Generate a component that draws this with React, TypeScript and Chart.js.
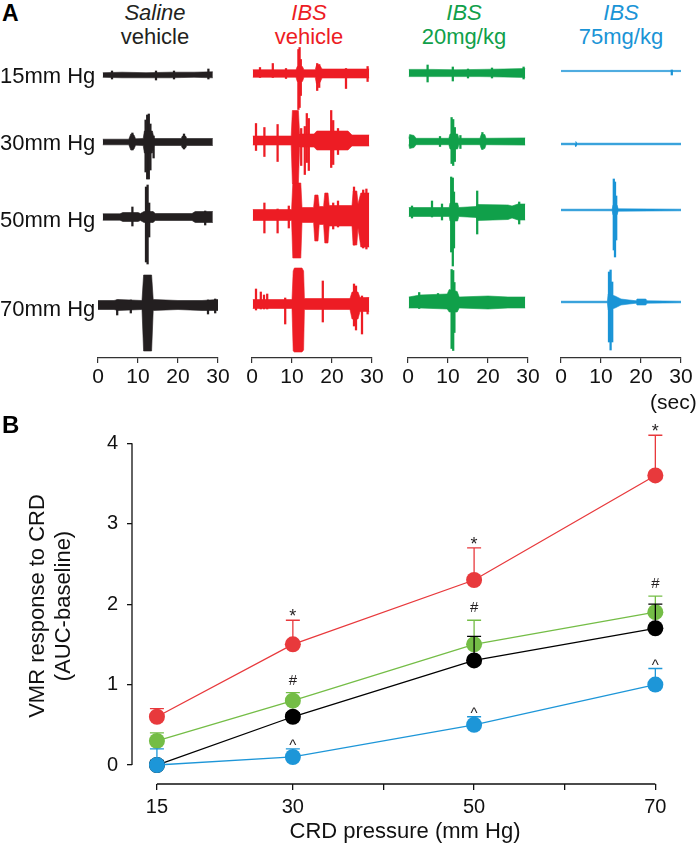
import React, { useEffect, useRef } from "react";
import { Chart, registerables } from "chart.js";
Chart.register(...registerables);

const FONT = "'Liberation Sans', Arial, Helvetica, sans-serif";

// ================= Panel A : EMG traces =================
const PRESSURE_ROWS = ["15mm Hg", "30mm Hg", "50mm Hg", "70mm Hg"];
const GROUP_LINE1 = ["Saline", "IBS", "IBS", "IBS"];
const GROUP_LINE2 = ["vehicle", "vehicle", "20mg/kg", "75mg/kg"];
const TIME_TICKS = [0, 10, 20, 30];
const TIME_UNIT = "(sec)";

// envelope samples: [time (s), upward amplitude, downward amplitude]
const SALINE_BAND = [
  [[1.2, 2.3, 2.3], [6, 2.8, 2.8], [12, 2.3, 2.8], [18, 2.8, 2.8], [24, 2.8, 2.3], [28.7, 3.2, 2.8]],
  [[1.2, 2.8, 2.8], [7.7, 2.8, 2.8], [8.2, 8, 8], [9, 7, 7], [9.4, 3.2, 3.2], [11.3, 3.5, 3.5], [11.6, 11, 11], [13.6, 11, 11], [14, 3.5, 3.5], [20.8, 3.5, 3.5], [21.1, 6, 6], [21.9, 6, 6], [22.2, 3.5, 3.5], [28.7, 3.5, 3.5]],
  [[1.2, 3.2, 3.2], [5.5, 3.2, 3.2], [6.2, 4.5, 4.5], [10, 4.5, 4.5], [10.6, 3.5, 3.5], [11.5, 5.5, 5.5], [13.8, 5.5, 5.5], [14.3, 3.5, 3.5], [23.5, 3.5, 3.5], [24.3, 5.5, 5.5], [28.7, 5.5, 5.5]],
  [[0, 4.5, 4.5], [4, 4.5, 4.5], [5, 5.5, 5.5], [11, 4.5, 4.5], [11.4, 30, 46], [13.4, 30, 46], [13.8, 5.5, 5.5], [20, 4.5, 4.5], [26, 4.5, 5.5], [30, 5.5, 5.5]],
];
// spikes: [time (s), upward amplitude, downward amplitude]
const SALINE_SPIKES = [
  [[3.5, 4, 4], [14.5, 4, 5], [19, 4, 4], [27.6, 6, 4]],
  [[8.6, 9, 8], [11.9, 22, 30], [12.3, 27, 37], [12.7, 28, 37], [13.1, 18, 28], [13.9, 6, 16], [21.5, 8, 7]],
  [[8.6, 10, 9], [12.0, 30, 45], [12.4, 32, 47], [12.8, 14, 20], [26.8, 6, 8]],
  [[4.8, 5, 10], [8.2, 5, 8], [27.5, 5, 9], [29.3, 6, 8]],
];

const IBS_VEH_BAND = [
  [[0.2, 3.8, 3.8], [11, 3.8, 3.8], [11.3, 7, 8], [12.6, 7, 8], [13, 3.8, 3.8], [15.8, 3.8, 3.8], [16.1, 8, 10], [17, 8, 9], [17.5, 4.5, 4.5], [29.3, 4.5, 4.5]],
  [[0.2, 4.5, 4.5], [9.8, 4.5, 4.5], [10.1, 30, 43], [11.6, 30, 43], [11.9, 6.5, 6.5], [15.5, 6.5, 6.5], [16.2, 9.5, 9.5], [24, 9.5, 9.5], [25, 5.5, 5.5], [29.3, 5.5, 5.5]],
  [[0.2, 5.5, 5.5], [9.9, 5.5, 5.5], [10.2, 32, 43], [12.2, 32, 43], [12.5, 7.5, 7.5], [15.4, 7.5, 7.5], [15.7, 20, 26], [16.5, 20, 26], [16.8, 8.5, 9.5], [17.9, 8.5, 9.5], [18.2, 22, 28], [19, 22, 28], [19.3, 9.5, 11], [25, 9.5, 11], [25.3, 24, 30], [26.2, 24, 30], [26.5, 11, 13], [27.2, 22, 32], [29.3, 22, 32]],
  [[0.2, 4.5, 4.5], [10, 4.5, 4.5], [10.3, 33, 47], [10.6, 36, 48], [12.5, 36, 48], [12.9, 33, 46], [13.1, 5.5, 5.5], [24.5, 5.5, 5.5], [25, 12, 15], [26.5, 12, 15], [27, 6.5, 7.5], [29.3, 6.5, 7.5]],
];
const IBS_VEH_SPIKES = [
  [[2, 6, 4], [5.2, 10, 4], [8.5, 5, 5], [11.6, 24, 36], [11.9, 26, 34], [12.2, 14, 22], [16.3, 10, 17], [16.8, 9, 14], [23.5, 5, 15], [28.9, 7, 8]],
  [[1, 17, 10], [3.1, 13, 16], [6.4, 16, 21], [12.3, 12, 25], [13.2, 14, 34], [13.7, 27, 22], [14.2, 22, 30], [19.8, 30, 27], [20.3, 20, 24], [21.5, 12, 14]],
  [[3.1, 12, 18], [6.4, 6, 18], [9.2, 9, 13], [20.3, 12, 14], [21.5, 14, 12], [25.5, 28, 30], [27.8, 25, 33], [28.6, 26, 34]],
  [[1, 15, 6], [2.2, 12, 5], [3, 9, 5], [3.8, 10, 5], [8.3, 6, 20], [17.7, 23, 18], [25.5, 20, 22], [26, 18, 26], [27.5, 8, 30], [28.9, 6, 10]],
];

const IBS20_BAND = [
  [[0.2, 3.6, 3.6], [6, 3.6, 3.6], [12, 3.2, 3.6], [18, 3.6, 3.6], [24, 4, 4], [29.3, 4.5, 4.5]],
  [[0.2, 3, 3], [0.4, 7, 7], [1.5, 6, 6], [2, 3.2, 3.2], [10.2, 3.2, 3.2], [10.5, 7.5, 7.5], [12.4, 7.5, 7.5], [12.7, 3.2, 3.2], [18, 3.2, 3.2], [18.3, 7, 7], [19.2, 7, 7], [19.5, 3.2, 3.2], [29.3, 3.6, 3.6]],
  [[0.2, 4.5, 4.5], [10.3, 4.5, 4.5], [10.5, 9, 9], [12.4, 9, 9], [12.7, 4.5, 4.5], [17, 5.5, 5.5], [17.5, 7.5, 8.5], [25, 7, 7.5], [26, 6, 6], [27.5, 8, 8], [29.3, 8, 8]],
  [[0.2, 5.5, 5.5], [3, 7.5, 5.5], [9.8, 8.5, 6.5], [10.3, 13, 9.5], [12.3, 11, 9.5], [12.8, 5.5, 5.5], [20, 6.5, 6.5], [25, 5.5, 5.5], [29.3, 5.5, 5.5]],
];
const IBS20_SPIKES = [
  [[4.9, 8, 9], [11.2, 6, 8], [15, 4, 5], [21, 5, 5], [28.9, 6, 6]],
  [[8, 5, 5], [10.9, 24, 22], [11.3, 22, 24], [11.7, 14, 20], [13.1, 6, 7], [18.6, 9, 8]],
  [[1, 6, 6], [6, 11, 5], [8.5, 8, 8], [10.8, 35, 40], [11.2, 34, 54], [11.5, 20, 36], [17.3, 21, 22], [27.8, 10, 12]],
  [[2.8, 10, 6], [7.5, 9, 5], [10.9, 33, 46], [11.3, 32, 48], [11.6, 20, 30]],
];

const IBS75_BAND = [
  [[0, 0.6, 0.6], [30, 0.6, 0.6]],
  [[0, 0.8, 0.8], [3.5, 0.8, 0.8], [3.7, 2.5, 2.5], [4, 0.8, 0.8], [30, 0.8, 0.8]],
  [[0, 0.8, 0.8], [12.8, 0.8, 0.8], [13, 5, 5], [14, 5, 5], [14.3, 1.2, 1.2], [30, 0.8, 0.8]],
  [[0, 0.8, 0.8], [11.6, 0.8, 0.8], [11.8, 8, 8], [13.5, 6, 6], [15, 3, 3], [17, 2, 2], [18.8, 1.2, 1.2], [19, 3, 3], [21.2, 3, 3], [21.5, 1.2, 1.2], [30, 0.8, 0.8]],
];
const IBS75_SPIKES = [
  [[27.7, 1, 4]],
  [],
  [[13.2, 31, 40], [13.5, 28, 47], [13.8, 14, 30]],
  [[12, 30, 40], [12.4, 32, 48], [12.8, 20, 40]],
];

const TRACE_BANDS = [SALINE_BAND, IBS_VEH_BAND, IBS20_BAND, IBS75_BAND];
const TRACE_SPIKES = [SALINE_SPIKES, IBS_VEH_SPIKES, IBS20_SPIKES, IBS75_SPIKES];

// ================= Panel B : VMR response =================
const CRD_PRESSURE = [15, 30, 50, 70];
const X_TICKS = [15, 30, 40, 50, 60, 70];
const X_TICK_LABELS = [15, 30, 50, 70];
const Y_TICKS = [0, 1, 2, 3, 4];

const IBS_VEHICLE = [0.6, 1.5, 2.3, 3.6];
const IBS_VEHICLE_SEM = [0.1, 0.3, 0.4, 0.5];
const IBS_VEHICLE_SIG = ["", "*", "*", "*"];

const IBS_20 = [0.3, 0.8, 1.5, 1.9];
const IBS_20_SEM = [0.1, 0.1, 0.3, 0.2];
const IBS_20_SIG = ["", "#", "#", "#"];

const SALINE_VEHICLE = [0.0, 0.6, 1.3, 1.7];
const SALINE_VEHICLE_SEM = [0.05, 0.05, 0.3, 0.3];
const SALINE_SIG = ["", "", "", ""];

const IBS_75 = [0.0, 0.1, 0.5, 1.0];
const IBS_75_SEM = [0.2, 0.1, 0.1, 0.2];
const IBS_75_SIG = ["", "^", "^", "^"];

// ================= layout / style =================
const A_COLORS = ["#231f20", "#ed1c24", "#10a04a", "#1a94d6"];
const A_PANEL_X0 = [98, 252, 408, 561];
const A_PANEL_W = 120;
const A_ROW_Y = [
  [75, 142, 217, 305],
  [73.5, 140.5, 215, 304],
  [73, 141.5, 212, 302.5],
  [71, 144, 210, 302],
];
const A_HEADER_CX = [155, 309, 464, 621];
const A_ROW_LABEL_TOP = [64.8, 132.1, 209.4, 298.1];
const A_TOP = 40;
const A_AXIS_Y = 358;
const A_PAD = 20;

const B_TOP = 390;
const B_H = 458;
const X_MIN = 12.25;
const X_MAX = 72.5;
const Y_MIN = -0.236;
const Y_MAX = 4.19;
const SIG_OFFSET: Record<string, number> = { "*": 7.5, "#": 13, "^": 6.5 };
const SIG_SIZE: Record<string, number> = { "*": 18, "#": 15, "^": 15 };

function TracePanel({ col }: { col: number }) {
  const ref = useRef<HTMLCanvasElement>(null);
  const w = A_PANEL_W + 2 * A_PAD;
  const h = A_AXIS_Y - A_TOP + 40;
  useEffect(() => {
    const canvas = ref.current!;
    const color = A_COLORS[col];
    const datasets: any[] = [];
    TRACE_BANDS[col].forEach((band, r) => {
      const base = A_AXIS_Y - A_ROW_Y[col][r];
      datasets.push({
        type: "line",
        data: band.map(([t, u]) => ({ x: t, y: base + u })),
        borderColor: color, backgroundColor: color, borderWidth: 0.6,
        pointRadius: 0, fill: "+1", tension: 0,
      });
      datasets.push({
        type: "line",
        data: band.map(([t, , d]) => ({ x: t, y: base - d })),
        borderColor: color, backgroundColor: color, borderWidth: 0.6,
        pointRadius: 0, fill: false, tension: 0,
      });
      datasets.push({
        type: "bar",
        data: TRACE_SPIKES[col][r].map(([t, u, d]) => ({ x: t, y: [base - d, base + u] })),
        backgroundColor: color, borderWidth: 0, barThickness: 1.6, grouped: false,
      });
    });
    const chart = new Chart(canvas, {
      type: "line",
      data: { datasets },
      options: {
        animation: false,
        responsive: false,
        maintainAspectRatio: false,
        layout: { padding: { left: A_PAD, right: A_PAD, top: 0, bottom: 0 } },
        plugins: { legend: { display: false }, tooltip: { enabled: false } },
        scales: {
          x: {
            type: "linear", min: 0, max: 30, offset: false,
            afterBuildTicks: (s: any) => { s.ticks = TIME_TICKS.map((v) => ({ value: v })); },
            afterFit: (s: any) => { s.height = 40; },
            grid: { offset: false, drawOnChartArea: false, drawTicks: true, tickLength: 5, color: "#333", lineWidth: 1.2 },
            border: { display: true, color: "#333", width: 1.2 },
            ticks: { font: { family: FONT, size: 21 }, color: "#111", padding: 1.5, maxRotation: 0, autoSkip: false },
          },
          y: { display: false, min: 0, max: A_AXIS_Y - A_TOP },
        },
      } as any,
    });
    return () => chart.destroy();
  }, [col]);
  return (
    <canvas
      ref={ref}
      width={w}
      height={h}
      style={{ position: "absolute", left: A_PANEL_X0[col] - A_PAD, top: A_TOP, width: w, height: h }}
    />
  );
}

function ResponseChart() {
  const ref = useRef<HTMLCanvasElement>(null);
  useEffect(() => {
    const canvas = ref.current!;
    const series = [
      { label: "IBS vehicle", vals: IBS_VEHICLE, sem: IBS_VEHICLE_SEM, sig: IBS_VEHICLE_SIG, color: "#e8393c", order: 3 },
      { label: "IBS 20mg/kg", vals: IBS_20, sem: IBS_20_SEM, sig: IBS_20_SIG, color: "#74bd46", order: 2 },
      { label: "Saline vehicle", vals: SALINE_VEHICLE, sem: SALINE_VEHICLE_SEM, sig: SALINE_SIG, color: "#000000", order: 1 },
      { label: "IBS 75mg/kg", vals: IBS_75, sem: IBS_75_SEM, sig: IBS_75_SIG, color: "#1d96d8", order: 0 },
    ];
    const datasets = series.map((s) => ({
      label: s.label,
      data: CRD_PRESSURE.map((x, i) => ({ x, y: s.vals[i] })),
      borderColor: s.color,
      backgroundColor: s.color,
      pointBackgroundColor: s.color,
      pointBorderWidth: 0,
      pointRadius: 8,
      borderWidth: 1.3,
      order: s.order,
      clip: false,
      tension: 0,
      errs: s.sem,
      sigs: s.sig,
    }));

    const errorBars = {
      id: "errorBars",
      beforeDatasetDraw(chart: any, args: any) {
        const ds = chart.data.datasets[args.index];
        const { x, y } = chart.scales;
        const ctx = chart.ctx;
        ctx.save();
        ctx.strokeStyle = ds.borderColor;
        ctx.lineWidth = 1.3;
        ds.data.forEach((p: any, i: number) => {
          const px = x.getPixelForValue(p.x);
          const py = y.getPixelForValue(p.y);
          const pt = y.getPixelForValue(p.y + ds.errs[i]);
          ctx.beginPath();
          ctx.moveTo(px, py);
          ctx.lineTo(px, pt);
          ctx.moveTo(px - 7, pt);
          ctx.lineTo(px + 7, pt);
          ctx.stroke();
        });
        ctx.restore();
      },
    };
    const axisLines = {
      id: "axisLines",
      beforeDatasetsDraw(chart: any) {
        const { x, y } = chart.scales;
        const ctx = chart.ctx;
        const left = chart.chartArea.left;
        const bottom = chart.chartArea.bottom;
        ctx.save();
        ctx.strokeStyle = "#111";
        ctx.lineWidth = 1.3;
        ctx.beginPath();
        ctx.moveTo(left, y.getPixelForValue(Y_TICKS[0]));
        ctx.lineTo(left, y.getPixelForValue(Y_TICKS[Y_TICKS.length - 1]));
        ctx.moveTo(x.getPixelForValue(X_TICKS[0]), bottom);
        ctx.lineTo(x.getPixelForValue(X_TICKS[X_TICKS.length - 1]), bottom);
        ctx.stroke();
        ctx.restore();
      },
    };
    const sigMarks = {
      id: "sigMarks",
      afterDatasetsDraw(chart: any) {
        const { x, y } = chart.scales;
        const ctx = chart.ctx;
        ctx.save();
        ctx.fillStyle = "#231f20";
        ctx.textAlign = "center";
        ctx.textBaseline = "alphabetic";
        chart.data.datasets.forEach((ds: any) => {
          ds.data.forEach((p: any, i: number) => {
            const sym = ds.sigs[i];
            if (!sym) return;
            ctx.font = `${SIG_SIZE[sym]}px ${FONT}`;
            const m = ctx.measureText(sym);
            const capY = y.getPixelForValue(p.y + ds.errs[i]);
            const cy = capY - SIG_OFFSET[sym];
            const baseY = cy + (m.actualBoundingBoxAscent - m.actualBoundingBoxDescent) / 2;
            ctx.fillText(sym, x.getPixelForValue(p.x), baseY);
          });
        });
        ctx.restore();
      },
    };

    const chart = new Chart(canvas, {
      type: "line",
      data: { datasets } as any,
      plugins: [axisLines, errorBars, sigMarks],
      options: {
        animation: false,
        responsive: false,
        maintainAspectRatio: false,
        layout: { padding: { left: 0, right: 20, top: 38, bottom: 2 } },
        plugins: { legend: { display: false }, tooltip: { enabled: false } },
        scales: {
          x: {
            type: "linear", min: X_MIN, max: X_MAX,
            afterBuildTicks: (s: any) => { s.ticks = X_TICKS.map((v) => ({ value: v })); },
            afterFit: (s: any) => { s.height = 62; },
            grid: { drawOnChartArea: false, drawTicks: true, tickLength: 6, color: "#111", lineWidth: 1.3 },
            border: { display: false },
            ticks: {
              font: { family: FONT, size: 20 }, color: "#111", padding: 5, maxRotation: 0, autoSkip: false,
              callback: (v: any) => (X_TICK_LABELS.includes(v) ? String(v) : ""),
            },
            title: {
              display: true, text: "CRD pressure (mm Hg)", color: "#111",
              font: { family: FONT, size: 22 }, padding: { top: 0, bottom: 1 },
            },
          },
          y: {
            type: "linear", min: Y_MIN, max: Y_MAX,
            afterBuildTicks: (s: any) => { s.ticks = Y_TICKS.map((v) => ({ value: v })); },
            afterFit: (s: any) => { s.width = 132; },
            grid: { drawOnChartArea: false, drawTicks: true, tickLength: 5, color: "#111", lineWidth: 1.3 },
            border: { display: false },
            ticks: { font: { family: FONT, size: 20 }, color: "#111", padding: 9 },
            title: {
              display: true, text: ["VMR response to CRD", "(AUC-baseline)"], color: "#111",
              font: { family: FONT, size: 22, lineHeight: 1.2 }, padding: { top: 24.8, bottom: 0 },
            },
          },
        },
      } as any,
    });
    return () => chart.destroy();
  }, []);
  return (
    <canvas
      ref={ref}
      width={698}
      height={B_H}
      style={{ position: "absolute", left: 0, top: B_TOP, width: 698, height: B_H }}
    />
  );
}

const textBase: React.CSSProperties = {
  position: "absolute",
  fontFamily: FONT,
  fontSize: 22,
  lineHeight: "22px",
  whiteSpace: "nowrap",
};

export default function App() {
  return (
    <div style={{ position: "absolute", left: 0, top: 0, width: 698, height: 848, background: "#fff", overflow: "hidden" }}>
      <div style={{ ...textBase, left: 2, top: 1.5, fontWeight: "bold", fontSize: 23, lineHeight: "23px" }}>A</div>
      {GROUP_LINE1.map((t, c) => (
        <React.Fragment key={c}>
          <div style={{ ...textBase, left: A_HEADER_CX[c] - 60, width: 120, textAlign: "center", top: 2.4, fontStyle: "italic", color: A_COLORS[c] }}>{t}</div>
          <div style={{ ...textBase, left: A_HEADER_CX[c] - 60, width: 120, textAlign: "center", top: 25.9, color: A_COLORS[c] }}>{GROUP_LINE2[c]}</div>
        </React.Fragment>
      ))}
      {[0, 1, 2, 3].map((c) => (
        <TracePanel key={c} col={c} />
      ))}
      {PRESSURE_ROWS.map((t, r) => (
        <div key={r} style={{ ...textBase, left: 0, top: A_ROW_LABEL_TOP[r], color: "#111" }}>{t}</div>
      ))}
      <div style={{ ...textBase, left: 650, top: 390.8, fontSize: 21, lineHeight: "21px", color: "#111" }}>{TIME_UNIT}</div>
      <ResponseChart />
      <div style={{ ...textBase, left: 2, top: 413, fontWeight: "bold", fontSize: 24, lineHeight: "24px" }}>B</div>
    </div>
  );
}
